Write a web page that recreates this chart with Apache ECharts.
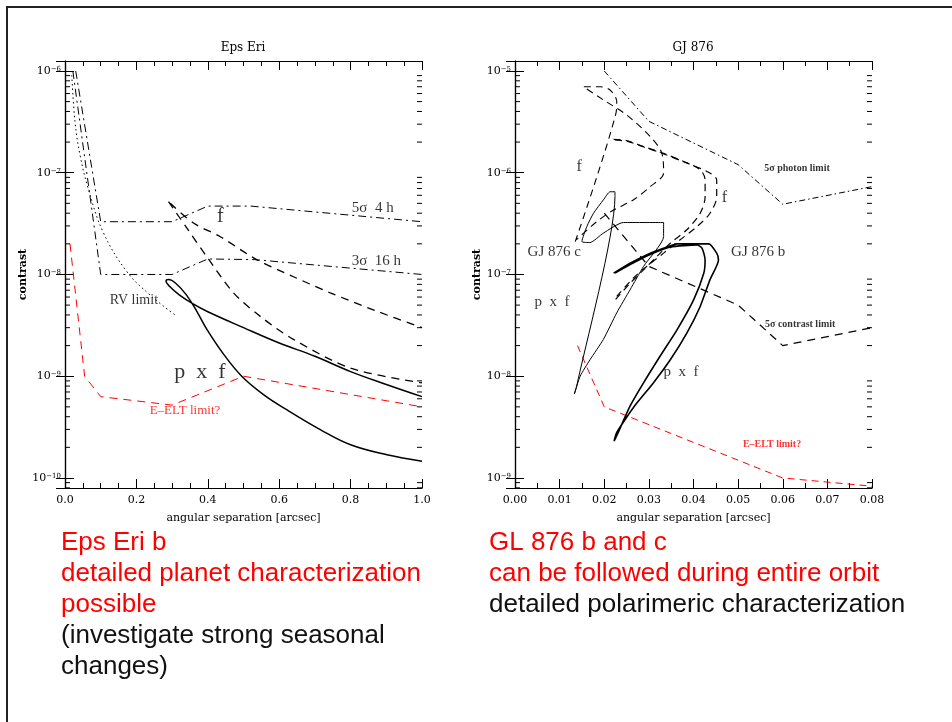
<!DOCTYPE html>
<html>
<head>
<meta charset="utf-8">
<title>Eps Eri / GJ 876 contrast</title>
<script src="https://cdn.jsdelivr.net/npm/echarts@6.0.0/dist/echarts.min.js"></script>
<style>
  html, body { margin: 0; padding: 0; background: #fff; }
  #chart { width: 952px; height: 722px; }
</style>
</head>
<body>
<div id="chart"></div>
<script>
// --- Eps Eri panel: [angular separation (arcsec), contrast] ---
const epsFiveSigma4h = [[0.03, 1e-6], [0.1, 3.3e-8], [0.3, 3.3e-8], [0.4, 4.7e-8], [0.52, 4.7e-8], [1.0, 3.3e-8]];
const epsThreeSigma16h = [[0.022, 1e-6], [0.1, 1e-8], [0.3, 1e-8], [0.4, 1.42e-8], [0.53, 1.4e-8], [1.0, 1e-8]];
const epsRvLimit = [[0.019, 9.1e-7], [0.028, 3.2e-7], [0.042, 1.5e-7], [0.065, 7.0e-8], [0.107, 2.6e-8], [0.173, 1.07e-8], [0.238, 6.3e-9], [0.308, 4.0e-9]];
const epsEelt = [[0.014, 2.0e-8], [0.055, 1.0e-9], [0.1, 6.3e-10], [0.3, 5.2e-10], [0.5, 1.0e-9], [1.0, 5.0e-10]];
const epsFluxA = [[0.295, 5.0e-8], [0.36, 3.2e-8], [0.435, 2.35e-8], [0.537, 1.4e-8], [0.64, 9.5e-9], [0.743, 6.6e-9], [0.87, 4.4e-9], [1.0, 3.0e-9]];
const epsFluxB = [[0.29, 5.2e-8], [0.34, 2.9e-8], [0.397, 1.5e-8], [0.472, 6.6e-9], [0.55, 3.8e-9], [0.64, 2.3e-9], [0.8, 1.2e-9], [1.0, 8.6e-10]];
const epsPxf = [[1.0, 1.46e-10], [0.902, 1.69e-10], [0.8, 2.12e-10], [0.715, 2.99e-10], [0.621, 4.69e-10], [0.556, 6.6e-10], [0.495, 1.0e-9], [0.444, 1.65e-9], [0.397, 2.9e-9], [0.37, 4.3e-9], [0.34, 6.3e-9], [0.31, 8.2e-9], [0.29, 8.9e-9], [0.283, 8.6e-9], [0.292, 7.7e-9], [0.32, 6.3e-9], [0.36, 5.1e-9], [0.4, 4.3e-9], [0.5, 3.0e-9], [0.6, 2.12e-9], [0.7, 1.57e-9], [0.8, 1.11e-9], [0.9, 8.3e-10], [1.0, 6.3e-10]];
const epsNotes = [[0.862, 4.5e-8, '5\u03c3  4 h'], [0.872, 1.36e-8, '3\u03c3  16 h'], [0.435, 3.7e-8, 'f'], [0.193, 5.6e-9, 'RV limit'], [0.378, 1.1e-9, 'p  x  f'], [0.336, 4.55e-10, 'E\u2013ELT limit?']];

// --- GJ 876 panel ---
const gjPhoton = [[0.02, 1e-5], [0.03, 3.2e-6], [0.05, 1.2e-6], [0.06, 4.9e-7], [0.08, 7.3e-7]];
const gjContrast = [[0.02, 4e-7], [0.03, 1.2e-7], [0.05, 5e-8], [0.06, 2e-8], [0.08, 3e-8]];
const gjEelt = [[0.014, 2e-8], [0.02, 5e-9], [0.06, 1e-9], [0.08, 8.3e-10]];
const gjFluxC = [[0.0135, 2.1e-7], [0.0226, 3.8e-6], [0.0228, 5.0e-6], [0.0213, 6.5e-6], [0.0191, 7.0e-6], [0.0153, 7.0e-6], [0.0198, 5.2e-6], [0.025, 3.7e-6], [0.0303, 2.27e-6], [0.0329, 1.56e-6], [0.0333, 9.9e-7], [0.0303, 7.3e-7], [0.0265, 5.4e-7], [0.0221, 4.3e-7], [0.0183, 3.3e-7], [0.0138, 2.2e-7]];
const gjFluxBInner = [[0.0221, 2.13e-6], [0.025, 2.07e-6], [0.0288, 1.81e-6], [0.0333, 1.55e-6], [0.0378, 1.29e-6], [0.0415, 1.07e-6], [0.0426, 8.5e-7], [0.0426, 5.8e-7], [0.0415, 4.0e-7], [0.0385, 2.75e-7], [0.0348, 2.03e-7], [0.0318, 1.5e-7], [0.0288, 1.11e-7], [0.0258, 8.2e-8], [0.0224, 5.6e-8]];
const gjFluxBOuter = [[0.0224, 2.1e-6], [0.0252, 2.03e-6], [0.029, 1.78e-6], [0.0335, 1.52e-6], [0.038, 1.27e-6], [0.043, 1.03e-6], [0.0452, 8.5e-7], [0.0452, 5.8e-7], [0.0437, 4.0e-7], [0.0408, 2.96e-7], [0.037, 2.19e-7], [0.0333, 1.62e-7], [0.0295, 1.2e-7], [0.0265, 9.2e-8], [0.0228, 6.1e-8]];
const gjPxfC = [[0.0224, 6.5e-7], [0.0213, 6.5e-7], [0.0198, 5.4e-7], [0.0176, 4.0e-7], [0.0161, 2.96e-7], [0.015, 2.11e-7], [0.0168, 2.06e-7], [0.0198, 2.55e-7], [0.0243, 3.24e-7], [0.0333, 3.24e-7], [0.0333, 2.36e-7], [0.0288, 1.2e-7], [0.0258, 7.1e-8], [0.0228, 4.2e-8], [0.0198, 2.3e-8], [0.0168, 1.45e-8], [0.0146, 1.0e-8], [0.0133, 6.7e-9], [0.0138, 7.9e-9], [0.0224, 5.8e-7], [0.0224, 6.5e-7]];
const gjPxfB = [[0.0221, 1.03e-7], [0.0258, 1.29e-7], [0.0303, 1.62e-7], [0.0348, 1.91e-7], [0.0363, 2.0e-7], [0.0434, 2.0e-7], [0.0452, 1.62e-7], [0.0456, 1.39e-7], [0.0437, 8.9e-8], [0.0415, 4.85e-8], [0.0385, 2.65e-8], [0.0348, 1.45e-8], [0.031, 8.6e-9], [0.0273, 5.45e-9], [0.0251, 4.0e-9], [0.0228, 2.8e-9], [0.0222, 2.3e-9], [0.0228, 2.6e-9], [0.0258, 5.1e-9], [0.0288, 8.6e-9], [0.0325, 1.57e-8], [0.0363, 2.86e-8], [0.04, 5.6e-8], [0.0423, 1.03e-7], [0.0426, 1.39e-7], [0.0419, 1.82e-7], [0.0408, 1.95e-7], [0.0348, 1.86e-7], [0.0303, 1.57e-7], [0.0258, 1.25e-7], [0.0224, 1.03e-7]];
const gjNotes = [[0.0632, 1.09e-6, '5\u03c3 photon limit'], [0.0639, 3.26e-8, '5\u03c3 contrast limit'], [0.0144, 1.14e-6, 'f'], [0.0469, 5.65e-7, 'f'], [0.0088, 1.66e-7, 'GJ 876 c'], [0.0545, 1.66e-7, 'GJ 876 b'], [0.0083, 5.37e-8, 'p  x  f'], [0.0372, 1.1e-8, 'p  x  f'], [0.0576, 2.16e-9, 'E\u2013ELT limit?']];

// axis ranges
const epsX = [0, 1.0], epsXStep = 0.2, epsXMinor = 4;
const gjX = [0, 0.08], gjXStep = 0.01, gjXMinor = 2;
const epsY = [7.97e-11, 1.253e-6];
const gjY = [7.97e-10, 1.253e-5];

// slide text
const leftText = [['Eps Eri b', 'red'], ['detailed planet characterization', 'red'], ['possible', 'red'], ['(investigate strong seasonal', '#111'], ['changes)', '#111']];
const rightText = [['GL 876 b and c', 'red'], ['can be followed during entire orbit', 'red'], ['detailed polarimeric characterization', '#111']];

const SERIF = '"DejaVu Serif", "Liberation Serif", serif';
const chart = echarts.init(document.getElementById('chart'), null, { renderer: 'canvas' });

// 2..9 x 10^k inside the range, for the small log ticks
function minorLogTicks(range) {
  const out = [];
  const lo = Math.floor(Math.log10(range[0])), hi = Math.ceil(Math.log10(range[1]));
  for (let k = lo; k <= hi; k++) {
    for (let m = 2; m <= 9; m++) {
      const v = m * Math.pow(10, k);
      if (v > range[0] && v < range[1]) out.push(v);
    }
  }
  return out;
}

const supFmt = v => {
  const e = Math.round(Math.log10(v));
  return '{b|10}{e|' + (e < 0 ? '\u2212' + (-e) : e) + '}';
};

function xAxes(grid, range, step, minor, digits) {
  const base = {
    gridIndex: grid, type: 'value', min: range[0], max: range[1], interval: step,
    axisLine: { lineStyle: { color: '#000', width: 1.2 } },
    axisTick: { inside: true, length: 9, lineStyle: { color: '#000' } },
    minorTick: { show: true, splitNumber: minor, length: 5, lineStyle: { color: '#000' } },
    splitLine: { show: false }
  };
  return [
    Object.assign({}, base, {
      position: 'bottom',
      axisLabel: { formatter: v => v.toFixed(digits), fontFamily: SERIF, fontSize: 11, color: '#000', margin: 7 },
      name: 'angular separation [arcsec]', nameLocation: 'middle', nameGap: 25,
      nameTextStyle: { fontFamily: SERIF, fontSize: 11, color: '#000' }
    }),
    Object.assign({}, base, { position: 'top', axisLabel: { show: false } })
  ];
}

function yAxes(grid, range) {
  const major = {
    gridIndex: grid, type: 'log', logBase: 10, min: range[0], max: range[1],
    axisLine: { lineStyle: { color: '#000', width: 1.2 } },
    axisTick: { inside: true, length: 9, lineStyle: { color: '#000' } },
    splitLine: { show: false }
  };
  return [
    Object.assign({}, major, {
      position: 'left',
      axisLabel: {
        formatter: supFmt, showMinLabel: false, showMaxLabel: false, margin: 4, color: '#000',
        rich: { b: { fontFamily: SERIF, fontSize: 11, color: '#000' }, e: { fontFamily: SERIF, fontSize: 7, verticalAlign: 'top', color: '#000' } }
      },
      name: 'contrast', nameLocation: 'middle', nameGap: 30, nameRotate: 90,
      nameTextStyle: { fontFamily: SERIF, fontSize: 11, fontWeight: 'bold', color: '#000' }
    }),
    Object.assign({}, major, { position: 'right', axisLabel: { show: false } })
  ];
}

// small ticks on both vertical frame edges, placed through the log axis
function minorTicks(range, xRange, xi, yi) {
  return {
    type: 'custom', xAxisIndex: xi, yAxisIndex: yi, silent: true, z: 5, clip: false,
    data: minorLogTicks(range).map(v => [xRange[0], v]),
    renderItem: (params, api) => {
      const a = api.coord([xRange[0], api.value(1)]);
      const b = api.coord([xRange[1], api.value(1)]);
      const st = { stroke: '#000', lineWidth: 1 };
      return {
        type: 'group', children: [
          { type: 'line', shape: { x1: a[0], y1: a[1], x2: a[0] + 5, y2: a[1] }, style: st },
          { type: 'line', shape: { x1: b[0] - 5, y1: b[1], x2: b[0], y2: b[1] }, style: st }
        ]
      };
    }
  };
}

function curve(data, xi, yi, color, width, type, smooth) {
  return {
    type: 'line', data: data, xAxisIndex: xi, yAxisIndex: yi, symbol: 'none',
    smooth: smooth || false, silent: true, z: 3,
    lineStyle: { color: color, width: width, type: type }
  };
}

function notes(list, xi, yi, styles) {
  return {
    type: 'scatter', xAxisIndex: xi, yAxisIndex: yi, symbolSize: 1, silent: true, z: 4,
    itemStyle: { color: 'rgba(0,0,0,0)' },
    data: list.map((n, i) => ({
      value: [n[0], n[1]],
      label: Object.assign({ show: true, position: 'inside', formatter: n[2], fontFamily: '"Liberation Serif", serif', color: '#000' }, styles[i])
    }))
  };
}

const DASH = [8, 6], DASHDOT = [8, 4, 2, 4], DOT = [1.5, 3];

const series = [
  minorTicks(epsY, epsX, 0, 0),
  curve(epsFiveSigma4h, 0, 0, '#000', 1, DASHDOT),
  curve(epsThreeSigma16h, 0, 0, '#000', 1, DASHDOT),
  curve(epsRvLimit, 0, 0, '#000', 1, DOT, 0.4),
  curve(epsEelt, 0, 0, 'red', 1, DASH),
  curve(epsFluxA, 0, 0, '#000', 1.3, DASH, 0.3),
  curve(epsFluxB, 0, 0, '#000', 1.3, DASH, 0.3),
  curve(epsPxf, 0, 0, '#000', 1.5, 'solid', 0.4),
  notes(epsNotes, 0, 0, [
    { fontSize: 15 }, { fontSize: 15 }, { fontSize: 20 }, { fontSize: 14 }, { fontSize: 22 }, { fontSize: 13, color: 'red' }
  ]),
  minorTicks(gjY, gjX, 2, 2),
  curve(gjPhoton, 2, 2, '#000', 1, [6, 3, 1.5, 3]),
  curve(gjContrast, 2, 2, '#000', 1.2, DASH),
  curve(gjEelt, 2, 2, 'red', 1, [7, 5]),
  curve(gjFluxC, 2, 2, '#000', 1.1, [7, 5], 0.3),
  curve(gjFluxBInner, 2, 2, '#000', 1.2, [7, 5], 0.3),
  curve(gjFluxBOuter, 2, 2, '#000', 1.2, [7, 5], 0.3),
  curve(gjPxfC, 2, 2, '#000', 1, 'solid', 0.2),
  curve(gjPxfB, 2, 2, '#000', 1.6, 'solid', 0.2),
  notes(gjNotes, 2, 2, [
    { fontSize: 10, fontWeight: 'bold' }, { fontSize: 10, fontWeight: 'bold' }, { fontSize: 16 }, { fontSize: 16 },
    { fontSize: 15 }, { fontSize: 15 }, { fontSize: 15 }, { fontSize: 15 }, { fontSize: 10, color: 'red', fontWeight: 'bold' }
  ])
];

function slideLines(lines, x, y0) {
  return lines.map((l, i) => ({
    type: 'text', x: x, y: y0 + i * 31,
    style: { text: l[0], fill: l[1], font: '26px "Liberation Sans", Arial, sans-serif', textVerticalAlign: 'middle' }
  }));
}

chart.setOption({
  animation: false,
  backgroundColor: '#fff',
  grid: [
    { left: 65, top: 61, width: 357, height: 427 },
    { left: 515, top: 61, width: 357, height: 427 }
  ],
  xAxis: xAxes(0, epsX, epsXStep, epsXMinor, 1).concat(xAxes(1, gjX, gjXStep, gjXMinor, 2)),
  yAxis: yAxes(0, epsY).concat(yAxes(1, gjY)),
  series: series,
  graphic: [
    { type: 'polyline', shape: { points: [[7, 722], [7, 7], [952, 7]] }, style: { stroke: '#222', lineWidth: 2, fill: null } },
    { type: 'text', x: 243, y: 48, style: { text: 'Eps Eri', font: '12px ' + SERIF, fill: '#000', textAlign: 'center', textVerticalAlign: 'middle' } },
    { type: 'text', x: 693, y: 48, style: { text: 'GJ 876', font: '12px ' + SERIF, fill: '#000', textAlign: 'center', textVerticalAlign: 'middle' } }
  ].concat(slideLines(leftText, 61, 543), slideLines(rightText, 489, 543))
});
</script>
</body>
</html>
